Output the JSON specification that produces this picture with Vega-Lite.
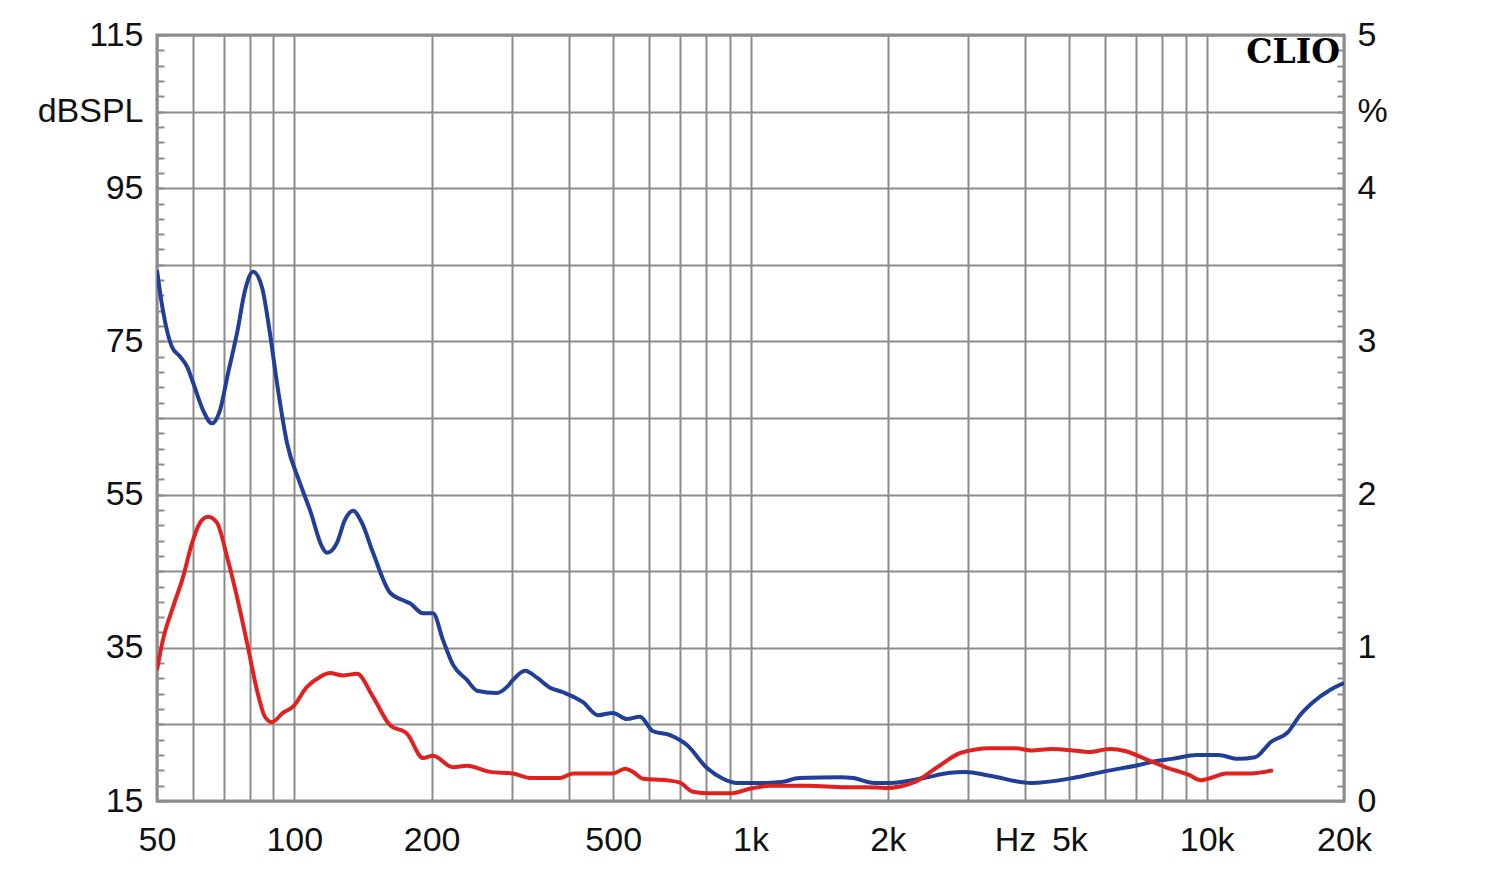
{
  "$schema": "https://vega.github.io/schema/vega-lite/v6.json",
  "width": 1187,
  "height": 766,
  "autosize": "none",
  "padding": {"left": 157, "top": 35, "right": 156, "bottom": 69},
  "background": "white",
  "config": {
    "view": {"stroke": "#8a8a8a", "strokeWidth": 3},
    "axis": {"labelFont": "Liberation Sans", "labelFontSize": 34, "labelColor": "#111", "domain": false, "labelFlush": false, "labelOverlap": false, "titleFontSize": 0}
  },
  "datasets": {
    "spl": [
      {"f": 50, "v": 84.3}, {"f": 51.5, "v": 79.1}, {"f": 53.9, "v": 74.3}, {"f": 56.2, "v": 73.0}, {"f": 58.2, "v": 71.7},
      {"f": 60.0, "v": 69.6}, {"f": 63.1, "v": 66.0}, {"f": 66.0, "v": 64.3}, {"f": 68.7, "v": 66.0}, {"f": 71.6, "v": 70.9},
      {"f": 74.9, "v": 76.1}, {"f": 78.0, "v": 81.7}, {"f": 81.2, "v": 84.1}, {"f": 84.9, "v": 82.1}, {"f": 88.4, "v": 76.1},
      {"f": 91.6, "v": 69.6}, {"f": 96.4, "v": 61.7}, {"f": 102.9, "v": 56.5}, {"f": 108.2, "v": 53.0}, {"f": 115.0, "v": 48.2},
      {"f": 117.9, "v": 47.4}, {"f": 124.0, "v": 48.7}, {"f": 129.1, "v": 51.7}, {"f": 134.5, "v": 52.9}, {"f": 140.7, "v": 51.3},
      {"f": 148.8, "v": 47.4}, {"f": 162.1, "v": 42.2}, {"f": 173.1, "v": 41.2}, {"f": 179.3, "v": 40.8}, {"f": 191.5, "v": 39.5},
      {"f": 201.4, "v": 39.5}, {"f": 211.8, "v": 36.0}, {"f": 222.7, "v": 32.8}, {"f": 239, "v": 30.8}, {"f": 251.5, "v": 29.4},
      {"f": 278.2, "v": 29.1}, {"f": 292.6, "v": 29.9}, {"f": 301.6, "v": 30.8}, {"f": 320.4, "v": 32.0}, {"f": 340.4, "v": 31.1},
      {"f": 363.5, "v": 29.8}, {"f": 388.1, "v": 29.2}, {"f": 429.3, "v": 27.9}, {"f": 463.1, "v": 26.2}, {"f": 499.5, "v": 26.5},
      {"f": 536.1, "v": 25.7}, {"f": 572.3, "v": 26.0}, {"f": 611.3, "v": 24.1}, {"f": 666.1, "v": 23.6}, {"f": 725.7, "v": 22.3},
      {"f": 802.9, "v": 19.3}, {"f": 870.4, "v": 17.9}, {"f": 933.7, "v": 17.35}, {"f": 1086.7, "v": 17.35}, {"f": 1178, "v": 17.5},
      {"f": 1277.6, "v": 18.0}, {"f": 1578.9, "v": 18.1}, {"f": 1677.8, "v": 18.0}, {"f": 1865, "v": 17.35}, {"f": 2022, "v": 17.35},
      {"f": 2400, "v": 18.0}, {"f": 2710, "v": 18.65}, {"f": 2952, "v": 18.8}, {"f": 3349, "v": 18.3}, {"f": 4118, "v": 17.35},
      {"f": 5091, "v": 18.0}, {"f": 6013, "v": 18.9}, {"f": 7106, "v": 19.7}, {"f": 7703, "v": 20.2}, {"f": 8394, "v": 20.5},
      {"f": 9521, "v": 21.0}, {"f": 10589, "v": 21.0}, {"f": 11713, "v": 20.5}, {"f": 12758, "v": 20.7}, {"f": 13830, "v": 22.7},
      {"f": 15076, "v": 24.0}, {"f": 16016, "v": 26.2}, {"f": 17099, "v": 27.9}, {"f": 18636, "v": 29.5}, {"f": 20000, "v": 30.4}
    ],
    "thd": [
      {"f": 50, "v": 0.855}, {"f": 51.5, "v": 1.05}, {"f": 54.2, "v": 1.265}, {"f": 57.0, "v": 1.46}, {"f": 59.7, "v": 1.685},
      {"f": 62.1, "v": 1.815}, {"f": 64.7, "v": 1.855}, {"f": 67.7, "v": 1.815}, {"f": 71.2, "v": 1.595}, {"f": 74.9, "v": 1.33},
      {"f": 78.8, "v": 1.03}, {"f": 82.8, "v": 0.725}, {"f": 86.2, "v": 0.55}, {"f": 89.3, "v": 0.515}, {"f": 94.4, "v": 0.575},
      {"f": 99.3, "v": 0.615}, {"f": 106.6, "v": 0.745}, {"f": 113.8, "v": 0.81}, {"f": 119.7, "v": 0.835}, {"f": 127.8, "v": 0.82},
      {"f": 137.2, "v": 0.83}, {"f": 148.8, "v": 0.68}, {"f": 162.1, "v": 0.495}, {"f": 176.6, "v": 0.44}, {"f": 191.5, "v": 0.28},
      {"f": 201.4, "v": 0.295}, {"f": 222.7, "v": 0.22}, {"f": 239, "v": 0.23}, {"f": 268.5, "v": 0.19}, {"f": 301.6, "v": 0.18},
      {"f": 328.6, "v": 0.15}, {"f": 382.2, "v": 0.15}, {"f": 408.2, "v": 0.18}, {"f": 467.9, "v": 0.18}, {"f": 499.5, "v": 0.18},
      {"f": 530.7, "v": 0.21}, {"f": 552.5, "v": 0.19}, {"f": 581.1, "v": 0.145}, {"f": 656.1, "v": 0.135}, {"f": 700.5, "v": 0.12},
      {"f": 748, "v": 0.06}, {"f": 815, "v": 0.05}, {"f": 902, "v": 0.05}, {"f": 997, "v": 0.08}, {"f": 1103, "v": 0.10},
      {"f": 1337, "v": 0.10}, {"f": 1611, "v": 0.09}, {"f": 1792, "v": 0.09}, {"f": 1981, "v": 0.085}, {"f": 2294, "v": 0.125},
      {"f": 2551, "v": 0.215}, {"f": 2893, "v": 0.315}, {"f": 3349, "v": 0.345}, {"f": 3799, "v": 0.345}, {"f": 4118, "v": 0.33},
      {"f": 4580, "v": 0.34}, {"f": 5091, "v": 0.33}, {"f": 5521, "v": 0.32}, {"f": 6137, "v": 0.34}, {"f": 6653, "v": 0.325},
      {"f": 7396, "v": 0.27}, {"f": 8224, "v": 0.215}, {"f": 9144, "v": 0.17}, {"f": 9713, "v": 0.135}, {"f": 10322, "v": 0.155},
      {"f": 11021, "v": 0.18}, {"f": 12504, "v": 0.18}, {"f": 13975, "v": 0.20}
    ],
    "brand": [{"t": "CLIO"}]
  },
  "layer": [
    {
      "data": {"name": "spl"},
      "mark": {"type": "line", "color": "#213f99", "strokeWidth": 4, "interpolate": "monotone", "clip": true},
      "encoding": {
        "x": {
          "field": "f", "type": "quantitative",
          "scale": {"type": "log", "domain": [50, 20000], "nice": false},
          "axis": {
            "title": null,
            "values": [50, 60, 70, 80, 90, 100, 200, 300, 400, 500, 600, 700, 800, 900, 1000, 2000, 3000, 3800, 4000, 5000, 6000, 7000, 8000, 9000, 10000, 20000],
            "labelExpr": "datum.value==50?'50':datum.value==100?'100':datum.value==200?'200':datum.value==500?'500':datum.value==1000?'1k':datum.value==2000?'2k':datum.value==3800?'Hz':datum.value==5000?'5k':datum.value==10000?'10k':datum.value==20000?'20k':''",
            "ticks": false,
            "labelPadding": 22,
            "grid": true,
            "gridColor": "#8c8c8c",
            "gridWidth": 2,
            "gridOpacity": {"condition": {"test": "datum.value == 3800", "value": 0}, "value": 1}
          }
        },
        "y": {
          "field": "v", "type": "quantitative",
          "scale": {"domain": [15, 115], "nice": false, "zero": false},
          "axis": {
            "title": null,
            "orient": "left",
            "values": [15,17,19,21,23,25,27,29,31,33,35,37,39,41,43,45,47,49,51,53,55,57,59,61,63,65,67,69,71,73,75,77,79,81,83,85,87,89,91,93,95,97,99,101,103,105,107,109,111,113,115],
            "labelExpr": "datum.value==105?'dBSPL':((datum.value-15)%20==0?datum.value:'')",
            "ticks": true,
            "tickSize": -7,
            "tickWidth": 2,
            "tickColor": "#8c8c8c",
            "labelPadding": 21,
            "grid": true,
            "gridColor": "#8c8c8c",
            "gridWidth": 2,
            "gridOpacity": {"condition": {"test": "(datum.value - 15) % 10 == 0", "value": 1}, "value": 0}
          }
        }
      }
    },
    {
      "data": {"name": "thd"},
      "mark": {"type": "line", "color": "#e0211f", "strokeWidth": 4, "interpolate": "monotone", "clip": true},
      "encoding": {
        "x": {"field": "f", "type": "quantitative", "scale": {"type": "log", "domain": [50, 20000], "nice": false}},
        "y": {
          "field": "v", "type": "quantitative",
          "scale": {"domain": [0, 5], "nice": false, "zero": false},
          "axis": {
            "title": null,
            "orient": "right",
            "values": [0,0.1,0.2,0.3,0.4,0.5,0.6,0.7,0.8,0.9,1,1.1,1.2,1.3,1.4,1.5,1.6,1.7,1.8,1.9,2,2.1,2.2,2.3,2.4,2.5,2.6,2.7,2.8,2.9,3,3.1,3.2,3.3,3.4,3.5,3.6,3.7,3.8,3.9,4,4.1,4.2,4.3,4.4,4.5,4.6,4.7,4.8,4.9,5],
            "labelExpr": "datum.value==4.5?'%':(datum.value%1==0?datum.value:'')",
            "ticks": true,
            "tickSize": -7,
            "tickWidth": 2,
            "tickColor": "#8c8c8c",
            "labelPadding": 20,
            "grid": false
          }
        }
      }
    },
    {
      "data": {"name": "brand"},
      "mark": {"type": "text", "font": "DejaVu Serif", "fontWeight": "bold", "fontSize": 33, "align": "right", "baseline": "top", "dx": -4, "dy": 2, "color": "#000"},
      "encoding": {
        "text": {"field": "t"},
        "x": {"datum": 20000, "type": "quantitative", "scale": {"type": "log", "domain": [50, 20000], "nice": false}},
        "y": {"datum": 5, "type": "quantitative", "scale": {"domain": [0, 5], "nice": false, "zero": false}, "axis": null}
      }
    }
  ],
  "resolve": {"scale": {"y": "independent"}, "axis": {"y": "independent"}}
}
